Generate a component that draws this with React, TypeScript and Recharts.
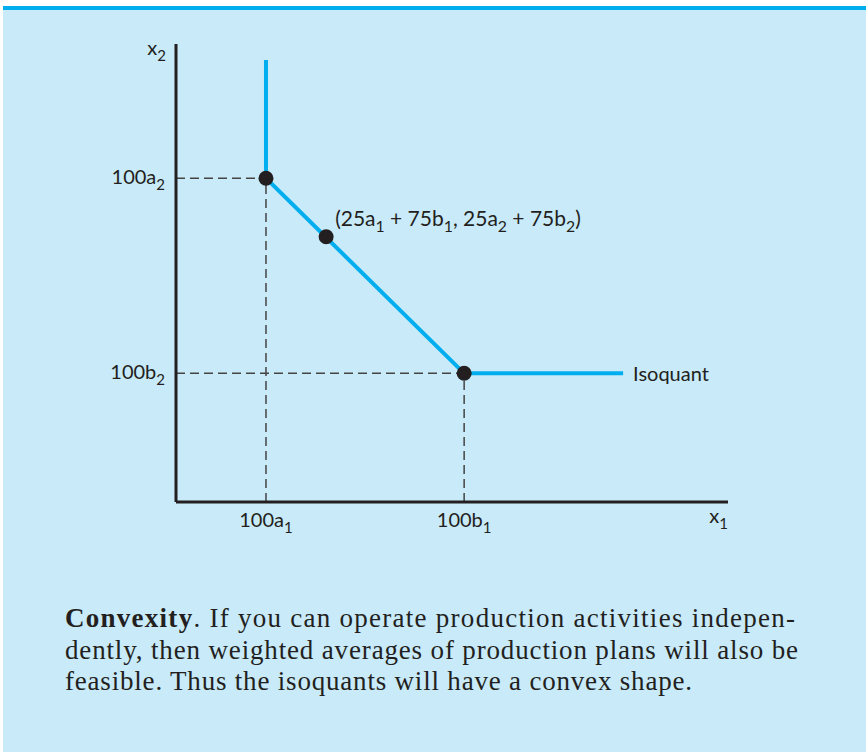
import React from "react";
import { ComposedChart, Line, Scatter, XAxis, YAxis, ReferenceLine, ReferenceDot } from "recharts";

// isoquant path (x1, x2), axes run 0..100
const isoX = [16.3, 16.3, 52.2, 81.0];
const isoY = [96.5, 70.7, 28.1, 28.1];

// marked production plans
const dotX = [16.3, 27.2, 52.2];
const dotY = [70.7, 57.9, 28.1];

const xTicks = [16.3, 52.2];
const xTickLabels = ["100a_1", "100b_1"];
const yTicks = [28.1, 70.7];
const yTickLabels = ["100b_2", "100a_2"];

const midLabel = "(25a_1 + 75b_1, 25a_2 + 75b_2)";
const curveLabel = "Isoquant";
const xName = "x_1";
const yName = "x_2";

const captionBold = "Convexity";
const captionLines = [
  ".  If you can operate production activities indepen-",
  "dently, then weighted averages of production plans will also be",
  "feasible.  Thus the isoquants will have a convex shape.",
];

const isoData = isoX.map((x, i) => ({ x, y: isoY[i] }));
const dotData = dotX.map((x, i) => ({ x, y: dotY[i] }));

const INK = "#231F20";
const BLUE = "#00AEEF";
const SANS = "Lato, 'Open Sans', sans-serif";

// "100a_1" -> 100a with subscript 1
function Rich({ text, size }: { text: string; size: number }) {
  const parts = text.split(/_(\d)/);
  const shift = size * 0.3;
  return (
    <>
      {parts.map((p, i) => {
        if (i % 2 === 1) {
          return (
            <tspan key={i} fontSize={size * 0.75} dy={shift}>
              {p}
            </tspan>
          );
        }
        return (
          <tspan key={i} dy={i > 0 ? -shift : undefined}>
            {p}
          </tspan>
        );
      })}
    </>
  );
}

const dashed = { stroke: "#444", strokeWidth: 1.5, strokeDasharray: "9 5" };

export default function App() {
  return (
    <div style={{ position: "absolute", left: 0, top: 0, width: 866, height: 752, background: "#fff" }}>
      <div
        style={{
          position: "absolute",
          left: 3,
          top: 6,
          width: 863,
          height: 746,
          boxSizing: "border-box",
          background: "#C8EAF9",
          borderTop: `4px solid ${BLUE}`,
        }}
      />
      <div style={{ position: "absolute", left: 0, top: 0 }}>
        <ComposedChart width={866} height={560} margin={{ top: 44, right: 138, left: 0, bottom: 28 }}>
          <XAxis
            type="number"
            dataKey="x"
            domain={[0, 100]}
            ticks={xTicks}
            height={30}
            tickLine={false}
            tickSize={0}
            tickMargin={0}
            axisLine={{ stroke: INK, strokeWidth: 3 }}
            tick={(p: any) => (
              <text x={p.x} y={p.y + 25} textAnchor="middle" fontFamily={SANS} fontSize={20} fill={INK}>
                <Rich text={xTickLabels[p.index]} size={20} />
              </text>
            )}
            label={{
              content: (p: any) => (
                <text
                  x={p.viewBox.x + p.viewBox.width}
                  y={p.viewBox.y + 21}
                  textAnchor="end"
                  fontFamily={SANS}
                  fontSize={20}
                  fill={INK}
                >
                  <Rich text={xName} size={20} />
                </text>
              ),
            }}
          />
          <YAxis
            type="number"
            domain={[0, 100]}
            ticks={yTicks}
            width={176}
            tickLine={false}
            tickSize={0}
            tickMargin={11}
            axisLine={{ stroke: INK, strokeWidth: 3 }}
            tick={(p: any) => (
              <text x={p.x} y={p.y + 6} textAnchor="end" fontFamily={SANS} fontSize={20} fill={INK}>
                <Rich text={yTickLabels[p.index]} size={20} />
              </text>
            )}
            label={{
              content: (p: any) => (
                <text
                  x={p.viewBox.x + p.viewBox.width - 10}
                  y={p.viewBox.y + 11}
                  textAnchor="end"
                  fontFamily={SANS}
                  fontSize={20}
                  fill={INK}
                >
                  <Rich text={yName} size={20} />
                </text>
              ),
            }}
          />
          {/* guide lines from the kinks down to the axes */}
          <ReferenceLine segment={[{ x: 0, y: dotY[0] }, { x: dotX[0], y: dotY[0] }]} {...dashed} />
          <ReferenceLine segment={[{ x: dotX[0], y: 0 }, { x: dotX[0], y: dotY[0] }]} {...dashed} />
          <ReferenceLine segment={[{ x: 0, y: dotY[2] }, { x: dotX[2], y: dotY[2] }]} {...dashed} />
          <ReferenceLine segment={[{ x: dotX[2], y: 0 }, { x: dotX[2], y: dotY[2] }]} {...dashed} />
          <Line
            data={isoData}
            dataKey="y"
            type="linear"
            stroke={BLUE}
            strokeWidth={4}
            strokeLinejoin="miter"
            dot={false}
            activeDot={false}
            isAnimationActive={false}
          />
          <Scatter
            data={dotData}
            dataKey="y"
            fill={INK}
            isAnimationActive={false}
            shape={(p: any) => <circle cx={p.cx} cy={p.cy} r={7.5} fill={INK} />}
          />
          <ReferenceDot
            x={dotX[1]}
            y={dotY[1]}
            r={0}
            shape={(p: any) => (
              <text x={p.cx + 9} y={p.cy - 11} fontFamily={SANS} fontSize={21} fill={INK} style={{ whiteSpace: "pre" }}>
                <Rich text={midLabel} size={21} />
              </text>
            )}
          />
          <ReferenceDot
            x={isoX[3]}
            y={isoY[3]}
            r={0}
            shape={(p: any) => (
              <text x={p.cx + 10} y={p.cy + 8} fontFamily={SANS} fontSize={20} fill={INK}>
                {curveLabel}
              </text>
            )}
          />
        </ComposedChart>
      </div>
      <svg width={866} height={752} style={{ position: "absolute", left: 0, top: 0 }}>
        <g fontFamily="'Liberation Serif', 'DejaVu Serif', serif" fontSize={27} fill={INK} style={{ whiteSpace: "pre" }}>
          <text x={65} y={627} textLength={730} lengthAdjust="spacing">
            <tspan fontWeight="bold">{captionBold}</tspan>
            <tspan>{captionLines[0]}</tspan>
          </text>
          <text x={65} y={658.5} textLength={733} lengthAdjust="spacing">
            {captionLines[1]}
          </text>
          <text x={65} y={690} textLength={627} lengthAdjust="spacing">
            {captionLines[2]}
          </text>
        </g>
      </svg>
    </div>
  );
}
